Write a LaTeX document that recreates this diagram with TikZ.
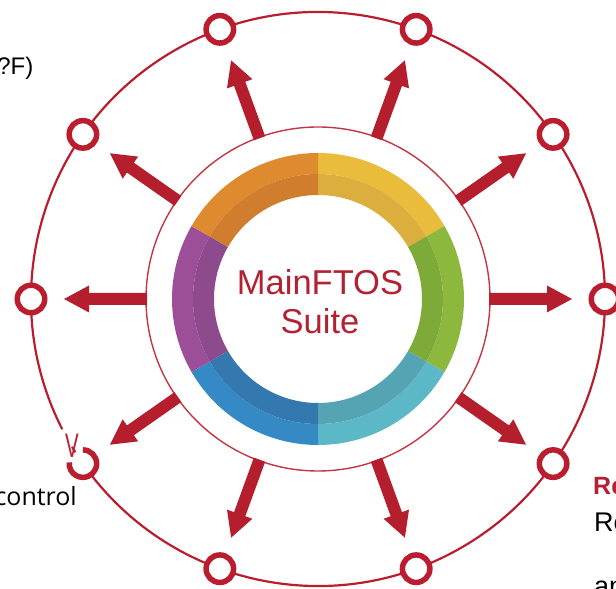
\documentclass[tikz,border=0pt]{standalone}
\usepackage{fontspec}
\setmainfont{Liberation Sans}
\newfontfamily\opensans{Open Sans}
\usetikzlibrary{calc}
\definecolor{nodered}{RGB}{186,30,46}
\definecolor{thinred}{RGB}{196,52,66}
\definecolor{arrowred}{RGB}{181,30,45}
\definecolor{titlered}{RGB}{178,34,50}
\definecolor{yelO}{RGB}{233,188,60}
\definecolor{yelI}{RGB}{219,174,62}
\definecolor{grnO}{RGB}{140,184,61}
\definecolor{grnI}{RGB}{126,170,58}
\definecolor{cyaO}{RGB}{92,184,198}
\definecolor{cyaI}{RGB}{85,164,180}
\definecolor{bluO}{RGB}{53,137,196}
\definecolor{bluI}{RGB}{51,121,176}
\definecolor{purO}{RGB}{156,78,153}
\definecolor{purI}{RGB}{141,74,140}
\definecolor{oraO}{RGB}{222,138,47}
\definecolor{oraI}{RGB}{208,126,46}
\tikzset{
  dotnode/.style={circle, draw=nodered, line width=5.5pt, fill=white, minimum size=27.5pt, inner sep=0pt},
  bigarrow/.style={fill=arrowred},
  sidetext/.style={inner sep=0pt, text=black}
}
\begin{document}
\begin{tikzpicture}[x=1pt,y=1pt]
\useasboundingbox (0,0) rectangle (616,589);
\clip (0,0) rectangle (616,589);
\coordinate (C) at (318,290);
% colour ring
\foreach \s/\e/\co/\ci in {30/90/yelO/yelI, -30/30/grnO/grnI, -90/-30/cyaO/cyaI, -150/-90/bluO/bluI, 150/210/purO/purI, 90/150/oraO/oraI}{
  \fill[\co] ($(C)+(\s:146)$) arc[start angle=\s, end angle=\e, radius=146] -- ($(C)+(\e:125)$) arc[start angle=\e, end angle=\s, radius=125] -- cycle;
  \fill[\ci] ($(C)+(\s:125)$) arc[start angle=\s, end angle=\e, radius=125] -- ($(C)+(\e:104)$) arc[start angle=\e, end angle=\s, radius=104] -- cycle;
}
% thin circle
\draw[thinred, line width=1.4pt] (C) circle[radius=172];
% big circle
\draw[nodered, line width=2.2pt] ($(C)+(211:287)$) arc[start angle=211, end angle=567, radius=287];
% arrows
\foreach \a in {0,35,70,110,145,180,215,250,290,325}{
  \begin{scope}[shift={(318,290)}, rotate=\a]
    \fill[bigarrow] (171,-6) -- (229,-6) -- (229,-13.5) -- (254,0) -- (229,13.5) -- (229,6) -- (171,6) -- cycle;
  \end{scope}
}
% nodes on the big circle
\foreach \a/\n in {0/n1,35/n2,70/n3,110/n4,145/n5,180/n6,250/n8,290/n9,325/n10}{
  \node[dotnode] (\n) at ($(C)+(\a:287)$) {};
}
\node[dotnode, draw=none] (n7) at ($(C)+(215:287)$) {};
\draw[nodered, line width=5.5pt] ($(n7.center)+(90:13.75)$) arc[start angle=90, end angle=-185, radius=13.75];
\node[anchor=base, inner sep=0pt, text=nodered, font=\fontsize{34}{34}\selectfont] (v) at (72,131) {\scalebox{0.6}[1]{V}};
% centre title
\node[anchor=base, inner sep=0pt, text=titlered, font=\fontsize{34.5}{39}\selectfont] (t1) at (320,294) {MainFTOS};
\node[anchor=base, inner sep=0pt, text=titlered, font=\fontsize{34.5}{39}\selectfont] (t2) at (320,255) {Suite};
% side texts
\node[sidetext, anchor=base east, font=\fontsize{24}{28}\selectfont] (q) at (33.5,514) {?F)};
\node[sidetext, anchor=base east, font=\opensans\fontsize{25}{30}\selectfont] (ctl) at (77,83) {control};
\node[sidetext, anchor=base west, text=titlered, font=\bfseries\fontsize{25}{30}\selectfont] (r1) at (593,94) {Re};
\node[sidetext, anchor=base west, font=\fontsize{27}{30}\selectfont] (r2) at (594,57) {Re};
\node[sidetext, anchor=base west, font=\fontsize{27}{30}\selectfont] (r3) at (594,-7) {an};
\end{tikzpicture}
\end{document}
